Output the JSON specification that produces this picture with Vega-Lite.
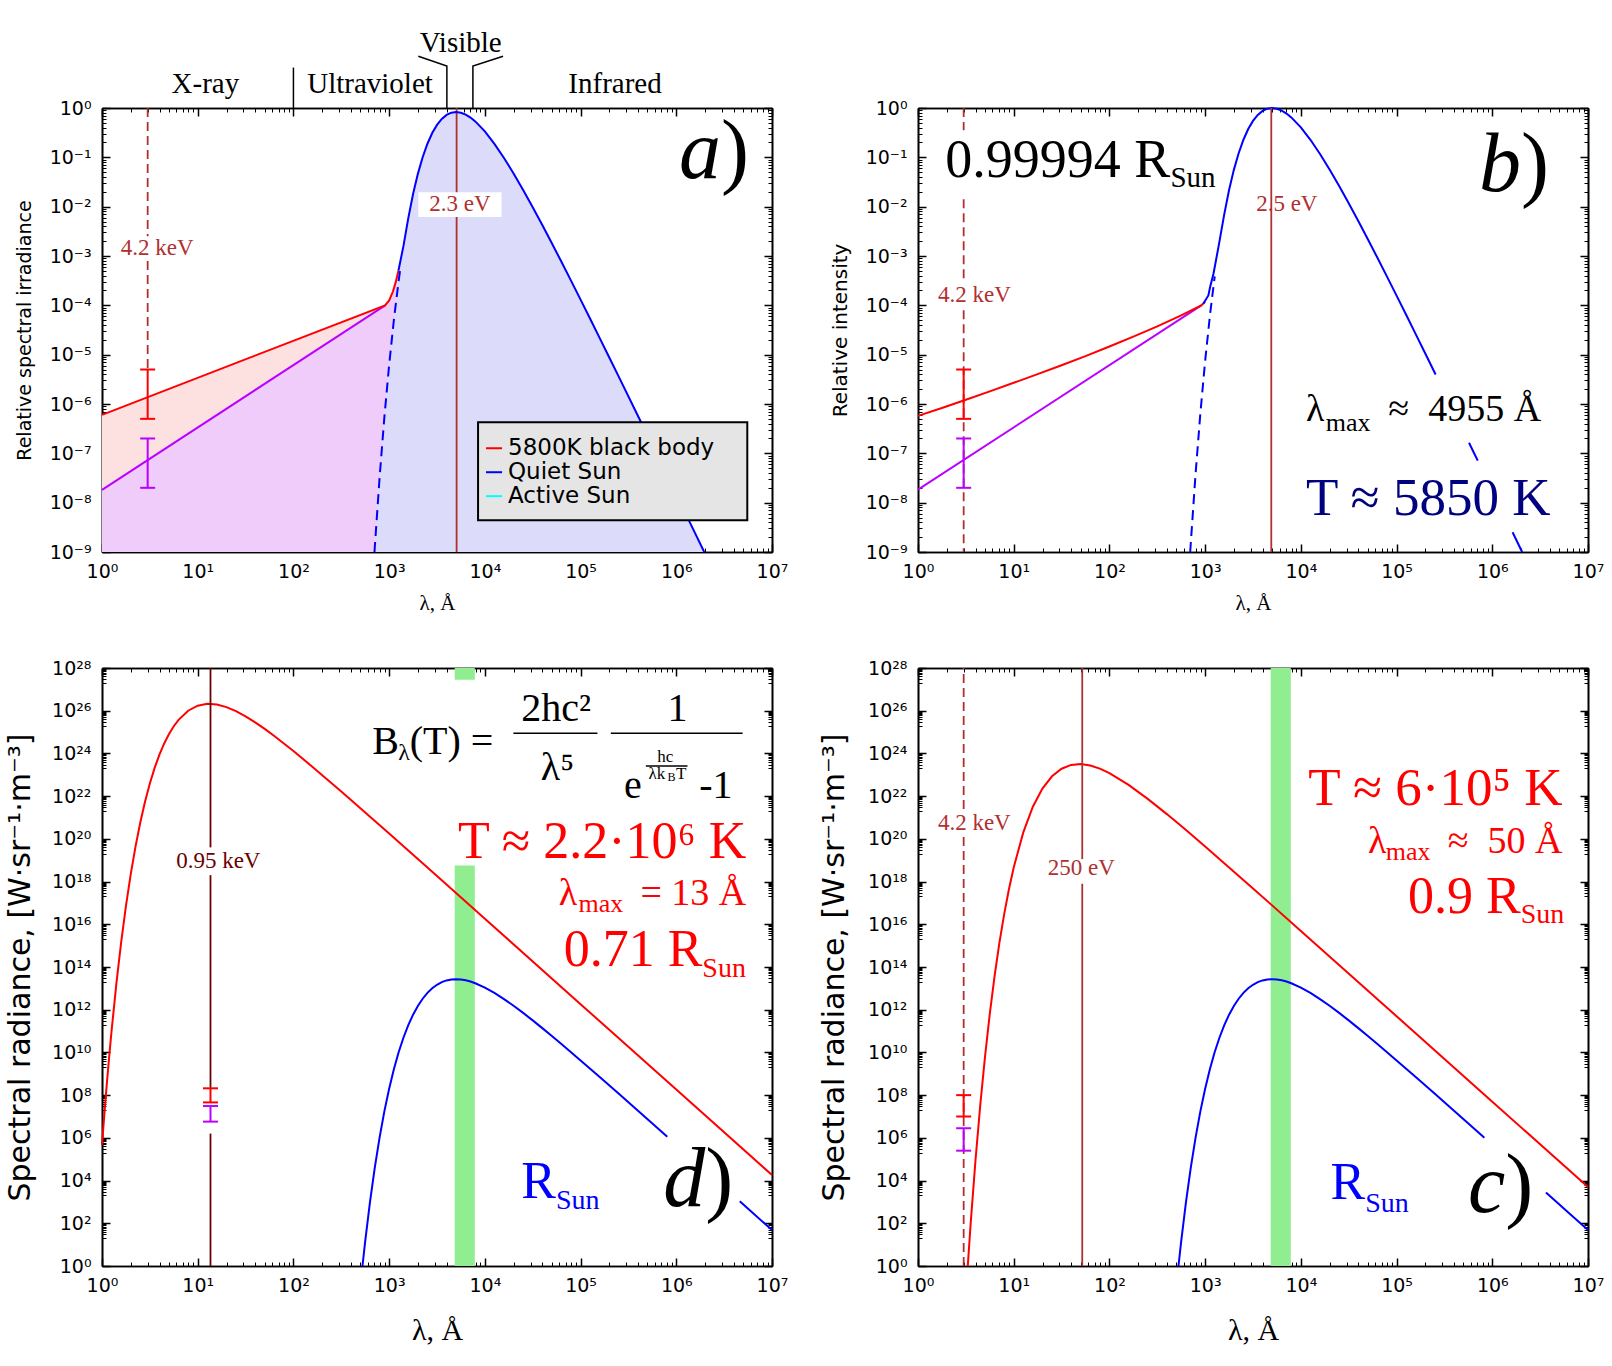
{
"$schema":"https://vega.github.io/schema/vega-lite/v6.json",
"background":"white",
"padding":{"left":5,"top":28,"right":5,"bottom":5},
"config":{"view":{"stroke":null},"axis":{"labelFont":"DejaVu Sans","labelFontSize":19,"labelColor":"black","tickColor":"black","domain":true,"domainColor":"black","domainWidth":1.6,"grid":false,"labelFlush":false,"labelOverlap":false,"zindex":1,"titleFont":"DejaVu Sans","titleColor":"black","titleFontWeight":"normal"}},
"datasets":{
"blueA":[{"x":703.1,"y":1e-9},{"x":707.9,"y":1.247e-9},{"x":794.3,"y":3.177e-8},{"x":891.3,"y":5.346e-7},{"x":1000,"y":6.194e-6},{"x":1122,"y":5.164e-5},{"x":1250,"y":5.012e-4},{"x":1413,"y":1.622e-3},{"x":1585,"y":5.848e-3},{"x":1778,"y":0.01807},{"x":1995,"y":0.04624},{"x":2239,"y":0.1007},{"x":2512,"y":0.1888},{"x":2818,"y":0.3105},{"x":3162,"y":0.455},{"x":3548,"y":0.6012},{"x":3981,"y":0.7244},{"x":4467,"y":0.8035},{"x":5012,"y":0.8279},{"x":5623,"y":0.8017},{"x":6310,"y":0.7345},{"x":7079,"y":0.6397},{"x":7943,"y":0.5346},{"x":10000,"y":0.3357},{"x":12589,"y":0.1879},{"x":15849,"y":0.09705},{"x":19953,"y":0.0471},{"x":25119,"y":0.02178},{"x":31623,"y":0.00975},{"x":39811,"y":0.004246},{"x":50119,"y":0.001811},{"x":63096,"y":7.621e-4},{"x":79433,"y":3.17e-4},{"x":100000,"y":1.303e-4},{"x":125893,"y":5.333e-5},{"x":158489,"y":2.168e-5},{"x":199526,"y":8.77e-6},{"x":251189,"y":3.54e-6},{"x":398107,"y":5.715e-7},{"x":630957,"y":9.162e-8},{"x":1000000,"y":1.462e-8},{"x":1584893,"y":2.328e-9},{"x":1958845,"y":1e-9}],
"blueB":[{"x":955,"y":1.072e-4,"g":1},{"x":1081,"y":1.585e-4,"g":1},{"x":1127,"y":2.344e-4,"g":1},{"x":1222,"y":4.365e-4,"g":1},{"x":1377,"y":1.514e-3,"g":1},{"x":1585,"y":7.047e-3,"g":1},{"x":1778,"y":0.02178,"g":1},{"x":1995,"y":0.05572,"g":1},{"x":2239,"y":0.1213,"g":1},{"x":2512,"y":0.2275,"g":1},{"x":2818,"y":0.3746,"g":1},{"x":3162,"y":0.5483,"g":1},{"x":3548,"y":0.7244,"g":1},{"x":3981,"y":0.8726,"g":1},{"x":4467,"y":0.9678,"g":1},{"x":5012,"y":0.9988,"g":1},{"x":5623,"y":0.9672,"g":1},{"x":6310,"y":0.8855,"g":1},{"x":7079,"y":0.7718,"g":1},{"x":7943,"y":0.6444,"g":1},{"x":10000,"y":0.4043,"g":1},{"x":12589,"y":0.2266,"g":1},{"x":15849,"y":0.1169,"g":1},{"x":19953,"y":0.05673,"g":1},{"x":25119,"y":0.02627,"g":1},{"x":31623,"y":0.01175,"g":1},{"x":39811,"y":0.005117,"g":1},{"x":50119,"y":0.002185,"g":1},{"x":63096,"y":9.187e-4,"g":1},{"x":79433,"y":3.818e-4,"g":1},{"x":100000,"y":1.572e-4,"g":1},{"x":125893,"y":6.425e-5,"g":1},{"x":158489,"y":2.612e-5,"g":1},{"x":199526,"y":1.057e-5,"g":1},{"x":251189,"y":4.263e-6,"g":1},{"x":255859,"y":3.963e-6,"g":1},{"x":571479,"y":1.636e-7,"g":2},{"x":630957,"y":1.104e-7,"g":2},{"x":704693,"y":7.104e-8,"g":2},{"x":1629296,"y":2.512e-9,"g":3},{"x":2051162,"y":1e-9,"g":3}],
"blueSI":[{"x":526.4,"y":1,"g":1},{"x":562.3,"y":14.69,"g":1},{"x":631,"y":1007,"g":1},{"x":707.9,"y":40460,"g":1},{"x":794.3,"y":1.03e6,"g":1},{"x":891.3,"y":1.734e7,"g":1},{"x":1000,"y":2.009e8,"g":1},{"x":1122,"y":1.675e9,"g":1},{"x":1259,"y":1.042e10,"g":1},{"x":1413,"y":5.0e10,"g":1},{"x":1585,"y":1.897e11,"g":1},{"x":1778,"y":5.861e11,"g":1},{"x":1995,"y":1.5e12,"g":1},{"x":2239,"y":3.266e12,"g":1},{"x":2512,"y":6.124e12,"g":1},{"x":2818,"y":1.008e13,"g":1},{"x":3162,"y":1.476e13,"g":1},{"x":3548,"y":1.95e13,"g":1},{"x":3981,"y":2.35e13,"g":1},{"x":4467,"y":2.606e13,"g":1},{"x":5012,"y":2.688e13,"g":1},{"x":5623,"y":2.603e13,"g":1},{"x":6310,"y":2.382e13,"g":1},{"x":7079,"y":2.077e13,"g":1},{"x":7943,"y":1.734e13,"g":1},{"x":10000,"y":1.089e13,"g":1},{"x":12589,"y":6.095e12,"g":1},{"x":15849,"y":3.148e12,"g":1},{"x":19953,"y":1.528e12,"g":1},{"x":25119,"y":7.079e11,"g":1},{"x":31623,"y":3.162e11,"g":1},{"x":39811,"y":1.377e11,"g":1},{"x":50119,"y":5.888e10,"g":1},{"x":63096,"y":2.472e10,"g":1},{"x":100000,"y":4.227e9,"g":1},{"x":158489,"y":7.031e8,"g":1},{"x":251189,"y":1.148e8,"g":1},{"x":398107,"y":1.854e7,"g":1},{"x":630957,"y":2.972e6,"g":1},{"x":805378,"y":1.125e6,"g":1},{"x":826038,"y":1.016e6,"g":1},{"x":3639150,"y":2729,"g":2},{"x":4602900,"y":1069,"g":2},{"x":6309573,"y":302,"g":2},{"x":10000000,"y":47.97,"g":2}]
},
"columns":2,
"spacing":{"row":116,"column":146},
"bounds":"flush",
"concat":[
{"width":670,"height":444,
"resolve":{"axis":{"x":"independent","y":"independent"}},
"encoding":{"x":{"field":"x","type":"quantitative","scale":{"type":"log","domain":[1,10000000],"nice":false},"axis":null},"y":{"field":"y","type":"quantitative","scale":{"type":"log","domain":[1e-9,1],"nice":false},"axis":null}},
"layer":[
{"data":{"values":[{"x":1,"y":1.82e-8,"y2":1e-9},{"x":907.8,"y":1e-4,"y2":1e-9},{"x":1000,"y":1.259e-4,"y2":1e-9},{"x":1096,"y":1.905e-4,"y2":1e-9},{"x":1175,"y":3.02e-4,"y2":1e-9},{"x":1250,"y":5.012e-4,"y2":1e-9}]},
 "mark":{"type":"area","color":"#efccfa","opacity":1},
 "encoding":{"x":{"field":"x","type":"quantitative","scale":{"type":"log","domain":[1,10000000],"nice":false},"axis":{"orient":"bottom","values":[1,10,100,1000,10000,100000,1000000,10000000],"tickSize":-8,"tickWidth":1.5,"labelPadding":18,"labelExpr":"'10' + ['⁰','¹','²','³','⁴','⁵','⁶','⁷','⁸','⁹'][round(log(datum.value)/LN10)]","title":"λ, Å","titleFont":"Liberation Serif","titleFontSize":21,"titlePadding":11}},
  "y":{"field":"y","type":"quantitative","scale":{"type":"log","domain":[1e-9,1],"nice":false},"axis":{"orient":"left","values":[1e-9,1e-8,1e-7,1e-6,1e-5,1e-4,1e-3,0.01,0.1,1],"tickSize":-8,"tickWidth":1.5,"labelPadding":19,"labelExpr":"'10' + (datum.value < 0.5 ? '⁻' : '') + ['⁰','¹','²','³','⁴','⁵','⁶','⁷','⁸','⁹'][abs(round(log(datum.value)/LN10))]","title":"Relative spectral irradiance","titleFontSize":19,"titlePadding":15}},
  "y2":{"field":"y2"}}},
{"data":{"values":[{"x":1,"y":6.03e-7,"y2":1.82e-8},{"x":907.8,"y":1e-4,"y2":1e-4}]},
 "mark":{"type":"area","color":"#fde1e1","opacity":1},
 "encoding":{"x":{"field":"x","type":"quantitative","scale":{"type":"log","domain":[1,10000000],"nice":false},"axis":{"orient":"top","values":[1,10,100,1000,10000,100000,1000000,10000000],"tickSize":-8,"tickWidth":1.5,"labels":false,"title":null}},
  "y":{"field":"y","type":"quantitative","scale":{"type":"log","domain":[1e-9,1],"nice":false},"axis":{"orient":"right","values":[1e-9,1e-8,1e-7,1e-6,1e-5,1e-4,1e-3,0.01,0.1,1],"tickSize":-8,"tickWidth":1.5,"labels":false,"title":null}},
  "y2":{"field":"y2"}}},
{"data":{"name":"blueA"},
 "mark":{"type":"area","color":"#dcdcfa","opacity":1},
 "encoding":{"x":{"field":"x","type":"quantitative","scale":{"type":"log","domain":[1,10000000],"nice":false},"axis":{"orient":"bottom","values":[2,3,4,5,6,7,8,9,20,30,40,50,60,70,80,90,200,300,400,500,600,700,800,900,2000,3000,4000,5000,6000,7000,8000,9000,20000,30000,40000,50000,60000,70000,80000,90000,200000,300000,400000,500000,600000,700000,800000,900000,2000000,3000000,4000000,5000000,6000000,7000000,8000000,9000000],"tickSize":-4,"tickWidth":1,"labels":false,"title":null}},
  "y":{"field":"y","type":"quantitative","scale":{"type":"log","domain":[1e-9,1],"nice":false},"axis":{"orient":"left","values":[2e-9,3e-9,4e-9,5e-9,6e-9,7e-9,8e-9,9e-9,2e-8,3e-8,4e-8,5e-8,6e-8,7e-8,8e-8,9e-8,2e-7,3e-7,4e-7,5e-7,6e-7,7e-7,8e-7,9e-7,2e-6,3e-6,4e-6,5e-6,6e-6,7e-6,8e-6,9e-6,2e-5,3e-5,4e-5,5e-5,6e-5,7e-5,8e-5,9e-5,2e-4,3e-4,4e-4,5e-4,6e-4,7e-4,8e-4,9e-4,2e-3,3e-3,4e-3,5e-3,6e-3,7e-3,8e-3,9e-3,0.02,0.03,0.04,0.05,0.06,0.07,0.08,0.09,0.2,0.3,0.4,0.5,0.6,0.7,0.8,0.9],"tickSize":-4,"tickWidth":1,"labels":false,"title":null}},
  "y2":{"datum":1e-9}}},
{"data":{"values":[{"x":100,"y":1,"g":1,"o":1},{"x":100,"y":6.6,"g":1,"o":2},{"x":2018,"y":11.22,"g":2,"o":1},{"x":4010,"y":7.08,"g":2,"o":2},{"x":4010,"y":1,"g":2,"o":3},{"x":15500,"y":11.22,"g":3,"o":1},{"x":7500,"y":7.08,"g":3,"o":2},{"x":7500,"y":1,"g":3,"o":3}]},
 "mark":{"type":"line","color":"black","strokeWidth":1.5},
 "encoding":{"x":{"field":"x","type":"quantitative","scale":{"type":"log","domain":[1,10000000],"nice":false},"axis":{"orient":"top","values":[2,3,4,5,6,7,8,9,20,30,40,50,60,70,80,90,200,300,400,500,600,700,800,900,2000,3000,4000,5000,6000,7000,8000,9000,20000,30000,40000,50000,60000,70000,80000,90000,200000,300000,400000,500000,600000,700000,800000,900000,2000000,3000000,4000000,5000000,6000000,7000000,8000000,9000000],"tickSize":-4,"tickWidth":1,"labels":false,"title":null}},
  "y":{"field":"y","type":"quantitative","scale":{"type":"log","domain":[1e-9,1],"nice":false},"axis":{"orient":"right","values":[2e-9,3e-9,4e-9,5e-9,6e-9,7e-9,8e-9,9e-9,2e-8,3e-8,4e-8,5e-8,6e-8,7e-8,8e-8,9e-8,2e-7,3e-7,4e-7,5e-7,6e-7,7e-7,8e-7,9e-7,2e-6,3e-6,4e-6,5e-6,6e-6,7e-6,8e-6,9e-6,2e-5,3e-5,4e-5,5e-5,6e-5,7e-5,8e-5,9e-5,2e-4,3e-4,4e-4,5e-4,6e-4,7e-4,8e-4,9e-4,2e-3,3e-3,4e-3,5e-3,6e-3,7e-3,8e-3,9e-3,0.02,0.03,0.04,0.05,0.06,0.07,0.08,0.09,0.2,0.3,0.4,0.5,0.6,0.7,0.8,0.9],"tickSize":-4,"tickWidth":1,"labels":false,"title":null}},
  "detail":{"field":"g"},"order":{"field":"o"}}},
{"data":{"values":[{"x":5070,"y":1e-9,"y2":1}]},"mark":{"type":"rule","color":"#b03030","strokeWidth":1.8},"encoding":{"y2":{"field":"y2"}}},
{"data":{"values":[{"x":3,"y":1,"y2":0.002512},{"x":3,"y":0.0007943,"y2":5e-6}]},"mark":{"type":"rule","color":"#b03030","strokeWidth":1.8,"strokeDash":[9,5]},"encoding":{"y2":{"field":"y2"}}},
{"data":{"values":[{"x":2018,"x2":14920,"y":0.0195,"y2":0.006166}]},"mark":{"type":"rect","color":"white","opacity":1},"encoding":{"x2":{"field":"x2"},"y2":{"field":"y2"}}},
{"data":{"values":[{"x":5495,"y":0.008318,"t":"2.3 eV"},{"x":3.767,"y":0.001072,"t":"4.2 keV"}]},"mark":{"type":"text","font":"Liberation Serif","fontSize":23,"align":"center","baseline":"alphabetic","color":"#b03030"},"encoding":{"text":{"field":"t"}}},
{"data":{"values":[{"x":1,"y":1.82e-8,"s":"pu"},{"x":907.8,"y":1e-4,"s":"pu"},{"x":1,"y":6.03e-7,"s":"bb"},{"x":907.8,"y":1e-4,"s":"bb"},{"x":1000,"y":1.259e-4,"s":"bb"},{"x":1096,"y":1.905e-4,"s":"bb"},{"x":1175,"y":3.02e-4,"s":"bb"},{"x":1250,"y":5.012e-4,"s":"bb"}]},"mark":{"type":"line","strokeWidth":2},"encoding":{"color":{"field":"s","type":"nominal","scale":{"domain":["bb","qs","as","pu"],"range":["#ff0000","#0000ff","#00ffff","#bb00ff"]},"legend":null}}},
{"data":{"name":"blueA"},"transform":[{"filter":"datum.x >= 1250"}],"mark":{"type":"line","color":"#0000ff","strokeWidth":2}},
{"data":{"values":[{"x":703.1,"y":1e-9},{"x":707.9,"y":1.247e-9},{"x":794.3,"y":3.177e-8},{"x":891.3,"y":5.346e-7},{"x":1000,"y":6.194e-6},{"x":1122,"y":5.164e-5},{"x":1259,"y":3.214e-4},{"x":1318,"y":6.026e-4}]},"mark":{"type":"line","color":"#0000ff","strokeWidth":2,"strokeDash":[10,6]}},
{"data":{"values":[{"x":3,"y":5e-6,"y2":5e-7,"s":"bb"},{"x":3,"y":2e-7,"y2":2e-8,"s":"pu"}]},"mark":{"type":"rule","strokeWidth":2},"encoding":{"y2":{"field":"y2"},"color":{"field":"s","type":"nominal","scale":{"domain":["bb","qs","as","pu"],"range":["#ff0000","#0000ff","#00ffff","#bb00ff"]},"legend":null}}},
{"data":{"values":[{"x":3,"y":5e-6,"s":"bb"},{"x":3,"y":5e-7,"s":"bb"},{"x":3,"y":2e-7,"s":"pu"},{"x":3,"y":2e-8,"s":"pu"}]},"mark":{"type":"tick","orient":"horizontal","size":15,"thickness":2,"opacity":1},"encoding":{"color":{"field":"s","type":"nominal","scale":{"domain":["bb","qs","as","pu"],"range":["#ff0000","#0000ff","#00ffff","#bb00ff"]},"legend":null}}},
{"data":{"values":[{"x":8492,"x2":5520000,"y":4.256e-7,"y2":4.426e-9}]},"mark":{"type":"rect","fill":"#e5e5e5","stroke":"black","strokeWidth":2,"opacity":1},"encoding":{"x2":{"field":"x2"},"y2":{"field":"y2"}}},
{"data":{"values":[{"x":10280,"x2":15136,"y":1.268e-7,"s":"bb"},{"x":10280,"x2":15136,"y":4.14e-8,"s":"qs"},{"x":10280,"x2":15136,"y":1.355e-8,"s":"as"}]},"mark":{"type":"rule","strokeWidth":2},"encoding":{"x2":{"field":"x2"},"color":{"field":"s","type":"nominal","scale":{"domain":["bb","qs","as","pu"],"range":["#ff0000","#0000ff","#00ffff","#bb00ff"]},"legend":null}}},
{"data":{"values":[{"x":17458,"y":1.268e-7,"t":"5800K black body"},{"x":17458,"y":4.14e-8,"t":"Quiet Sun"},{"x":17458,"y":1.355e-8,"t":"Active Sun"}]},"mark":{"type":"text","font":"DejaVu Sans","fontSize":23,"align":"left","baseline":"middle","color":"black"},"encoding":{"text":{"field":"t"}}},
{"data":{"values":[{"x":12.02,"y":2.014,"t":"X-ray"},{"x":631,"y":2.014,"t":"Ultraviolet"},{"x":229087,"y":2.014,"t":"Infrared"},{"x":5585,"y":13.96,"t":"Visible"}]},"mark":{"type":"text","font":"Liberation Serif","fontSize":29,"align":"center","baseline":"alphabetic","color":"black"},"encoding":{"text":{"field":"t"}}},
{"data":{"values":[{"x":2938000,"y":0.03802,"t":"a"}]},"mark":{"type":"text","font":"Liberation Serif","fontSize":84,"fontStyle":"italic","align":"right","baseline":"alphabetic","color":"black"},"encoding":{"text":{"field":"t"}}},
{"data":{"values":[{"x":2938000,"y":0.03802,"t":")"}]},"mark":{"type":"text","font":"Liberation Serif","fontSize":84,"align":"left","baseline":"alphabetic","color":"black"},"encoding":{"text":{"field":"t"}}}
]},
{"width":670,"height":444,
"resolve":{"axis":{"x":"independent","y":"independent"}},
"encoding":{"x":{"field":"x","type":"quantitative","scale":{"type":"log","domain":[1,10000000],"nice":false},"axis":null},"y":{"field":"y","type":"quantitative","scale":{"type":"log","domain":[1e-9,1],"nice":false},"axis":null}},
"layer":[
{"data":{"values":[{"x":1,"y":1.837e-8,"s":"pu"},{"x":912,"y":1e-4,"s":"pu"},{"x":1,"y":5.754e-7,"s":"bb"},{"x":1.778,"y":8.318e-7,"s":"bb"},{"x":3.162,"y":1.216e-6,"s":"bb"},{"x":5.623,"y":1.799e-6,"s":"bb"},{"x":10,"y":2.692e-6,"s":"bb"},{"x":17.78,"y":4.027e-6,"s":"bb"},{"x":31.62,"y":6.095e-6,"s":"bb"},{"x":56.23,"y":9.333e-6,"s":"bb"},{"x":100,"y":1.462e-5,"s":"bb"},{"x":177.8,"y":2.317e-5,"s":"bb"},{"x":316.2,"y":3.758e-5,"s":"bb"},{"x":562.3,"y":6.237e-5,"s":"bb"},{"x":912,"y":1e-4,"s":"bb"},{"x":1000,"y":1.175e-4,"s":"bb"}]},
 "mark":{"type":"line","strokeWidth":2},
 "encoding":{"x":{"field":"x","type":"quantitative","scale":{"type":"log","domain":[1,10000000],"nice":false},"axis":{"orient":"bottom","values":[1,10,100,1000,10000,100000,1000000,10000000],"tickSize":-8,"tickWidth":1.5,"labelPadding":18,"labelExpr":"'10' + ['⁰','¹','²','³','⁴','⁵','⁶','⁷','⁸','⁹'][round(log(datum.value)/LN10)]","title":"λ, Å","titleFont":"Liberation Serif","titleFontSize":21,"titlePadding":11}},
  "y":{"field":"y","type":"quantitative","scale":{"type":"log","domain":[1e-9,1],"nice":false},"axis":{"orient":"left","values":[1e-9,1e-8,1e-7,1e-6,1e-5,1e-4,1e-3,0.01,0.1,1],"tickSize":-8,"tickWidth":1.5,"labelPadding":19,"labelExpr":"'10' + (datum.value < 0.5 ? '⁻' : '') + ['⁰','¹','²','³','⁴','⁵','⁶','⁷','⁸','⁹'][abs(round(log(datum.value)/LN10))]","title":"Relative intensity","titleFontSize":20,"titlePadding":15}},
  "color":{"field":"s","type":"nominal","scale":{"domain":["bb","qs","as","pu"],"range":["#ff0000","#0000ff","#00ffff","#bb00ff"]},"legend":null}}},
{"data":{"name":"blueB"},
 "mark":{"type":"line","color":"#0000ff","strokeWidth":2},
 "encoding":{"x":{"field":"x","type":"quantitative","scale":{"type":"log","domain":[1,10000000],"nice":false},"axis":{"orient":"top","values":[1,10,100,1000,10000,100000,1000000,10000000],"tickSize":-8,"tickWidth":1.5,"labels":false,"title":null}},
  "y":{"field":"y","type":"quantitative","scale":{"type":"log","domain":[1e-9,1],"nice":false},"axis":{"orient":"right","values":[1e-9,1e-8,1e-7,1e-6,1e-5,1e-4,1e-3,0.01,0.1,1],"tickSize":-8,"tickWidth":1.5,"labels":false,"title":null}},
  "detail":{"field":"g"}}},
{"data":{"values":[{"x":698.2,"y":1e-9},{"x":707.9,"y":1.503e-9},{"x":794.3,"y":3.828e-8},{"x":891.3,"y":6.442e-7},{"x":1000,"y":7.464e-6},{"x":1122,"y":6.223e-5},{"x":1259,"y":3.873e-4}]},
 "mark":{"type":"line","color":"#0000ff","strokeWidth":2,"strokeDash":[10,6]},
 "encoding":{"x":{"field":"x","type":"quantitative","scale":{"type":"log","domain":[1,10000000],"nice":false},"axis":{"orient":"bottom","values":[2,3,4,5,6,7,8,9,20,30,40,50,60,70,80,90,200,300,400,500,600,700,800,900,2000,3000,4000,5000,6000,7000,8000,9000,20000,30000,40000,50000,60000,70000,80000,90000,200000,300000,400000,500000,600000,700000,800000,900000,2000000,3000000,4000000,5000000,6000000,7000000,8000000,9000000],"tickSize":-4,"tickWidth":1,"labels":false,"title":null}},
  "y":{"field":"y","type":"quantitative","scale":{"type":"log","domain":[1e-9,1],"nice":false},"axis":{"orient":"left","values":[2e-9,3e-9,4e-9,5e-9,6e-9,7e-9,8e-9,9e-9,2e-8,3e-8,4e-8,5e-8,6e-8,7e-8,8e-8,9e-8,2e-7,3e-7,4e-7,5e-7,6e-7,7e-7,8e-7,9e-7,2e-6,3e-6,4e-6,5e-6,6e-6,7e-6,8e-6,9e-6,2e-5,3e-5,4e-5,5e-5,6e-5,7e-5,8e-5,9e-5,2e-4,3e-4,4e-4,5e-4,6e-4,7e-4,8e-4,9e-4,2e-3,3e-3,4e-3,5e-3,6e-3,7e-3,8e-3,9e-3,0.02,0.03,0.04,0.05,0.06,0.07,0.08,0.09,0.2,0.3,0.4,0.5,0.6,0.7,0.8,0.9],"tickSize":-4,"tickWidth":1,"labels":false,"title":null}}}},
{"data":{"values":[{"x":4910,"y":1e-9,"y2":1}]},
 "mark":{"type":"rule","color":"#b03030","strokeWidth":1.8},
 "encoding":{"x":{"field":"x","type":"quantitative","scale":{"type":"log","domain":[1,10000000],"nice":false},"axis":{"orient":"top","values":[2,3,4,5,6,7,8,9,20,30,40,50,60,70,80,90,200,300,400,500,600,700,800,900,2000,3000,4000,5000,6000,7000,8000,9000,20000,30000,40000,50000,60000,70000,80000,90000,200000,300000,400000,500000,600000,700000,800000,900000,2000000,3000000,4000000,5000000,6000000,7000000,8000000,9000000],"tickSize":-4,"tickWidth":1,"labels":false,"title":null}},
  "y":{"field":"y","type":"quantitative","scale":{"type":"log","domain":[1e-9,1],"nice":false},"axis":{"orient":"right","values":[2e-9,3e-9,4e-9,5e-9,6e-9,7e-9,8e-9,9e-9,2e-8,3e-8,4e-8,5e-8,6e-8,7e-8,8e-8,9e-8,2e-7,3e-7,4e-7,5e-7,6e-7,7e-7,8e-7,9e-7,2e-6,3e-6,4e-6,5e-6,6e-6,7e-6,8e-6,9e-6,2e-5,3e-5,4e-5,5e-5,6e-5,7e-5,8e-5,9e-5,2e-4,3e-4,4e-4,5e-4,6e-4,7e-4,8e-4,9e-4,2e-3,3e-3,4e-3,5e-3,6e-3,7e-3,8e-3,9e-3,0.02,0.03,0.04,0.05,0.06,0.07,0.08,0.09,0.2,0.3,0.4,0.5,0.6,0.7,0.8,0.9],"tickSize":-4,"tickWidth":1,"labels":false,"title":null}},
  "y2":{"field":"y2"}}},
{"data":{"values":[{"x":3,"y":1,"y2":0.3548},{"x":3,"y":0.01413,"y2":2.818e-4},{"x":3,"y":7.943e-5,"y2":1e-9}]},"mark":{"type":"rule","color":"#b03030","strokeWidth":1.8,"strokeDash":[9,5]},"encoding":{"y2":{"field":"y2"}}},
{"data":{"values":[{"x":3,"y":5e-6,"y2":5e-7,"s":"bb"},{"x":3,"y":2e-7,"y2":2e-8,"s":"pu"}]},"mark":{"type":"rule","strokeWidth":2},"encoding":{"y2":{"field":"y2"},"color":{"field":"s","type":"nominal","scale":{"domain":["bb","qs","as","pu"],"range":["#ff0000","#0000ff","#00ffff","#bb00ff"]},"legend":null}}},
{"data":{"values":[{"x":3,"y":5e-6,"s":"bb"},{"x":3,"y":5e-7,"s":"bb"},{"x":3,"y":2e-7,"s":"pu"},{"x":3,"y":2e-8,"s":"pu"}]},"mark":{"type":"tick","orient":"horizontal","size":15,"thickness":2,"opacity":1},"encoding":{"color":{"field":"s","type":"nominal","scale":{"domain":["bb","qs","as","pu"],"range":["#ff0000","#0000ff","#00ffff","#bb00ff"]},"legend":null}}},
{"data":{"values":[{"x":7129,"y":0.008318,"t":"2.5 eV"},{"x":3.882,"y":1.175e-4,"t":"4.2 keV"}]},"mark":{"type":"text","font":"Liberation Serif","fontSize":23,"align":"center","baseline":"alphabetic","color":"#b03030"},"encoding":{"text":{"field":"t"}}},
{"data":{"values":[{"x":433.5,"y":0.03981,"t":"0.99994 R"}]},"mark":{"type":"text","font":"Liberation Serif","fontSize":54,"align":"right","baseline":"alphabetic","color":"black"},"encoding":{"text":{"field":"t"}}},
{"data":{"values":[{"x":433.5,"y":0.02512,"t":"Sun"}]},"mark":{"type":"text","font":"Liberation Serif","fontSize":29,"align":"left","baseline":"alphabetic","color":"black"},"encoding":{"text":{"field":"t"}}},
{"data":{"values":[{"x":11298,"y":4.519e-7,"t":"λ"}]},"mark":{"type":"text","font":"Liberation Serif","fontSize":38,"align":"left","baseline":"alphabetic","color":"black"},"encoding":{"text":{"field":"t"}}},
{"data":{"values":[{"x":18197,"y":2.818e-7,"t":"max"}]},"mark":{"type":"text","font":"Liberation Serif","fontSize":26,"align":"left","baseline":"alphabetic","color":"black"},"encoding":{"text":{"field":"t"}}},
{"data":{"values":[{"x":3236000,"y":4.519e-7,"t":"≈\u00a0\u00a04955 Å"}]},"mark":{"type":"text","font":"Liberation Serif","fontSize":38,"align":"right","baseline":"alphabetic","color":"black"},"encoding":{"text":{"field":"t"}}},
{"data":{"values":[{"x":11298,"y":5.495e-9,"t":"T ≈ 5850 K"}]},"mark":{"type":"text","font":"Liberation Serif","fontSize":53,"align":"left","baseline":"alphabetic","color":"#000080"},"encoding":{"text":{"field":"t"}}},
{"data":{"values":[{"x":1995000,"y":0.02089,"t":"b"}]},"mark":{"type":"text","font":"Liberation Serif","fontSize":84,"fontStyle":"italic","align":"right","baseline":"alphabetic","color":"black"},"encoding":{"text":{"field":"t"}}},
{"data":{"values":[{"x":1995000,"y":0.02089,"t":")"}]},"mark":{"type":"text","font":"Liberation Serif","fontSize":84,"align":"left","baseline":"alphabetic","color":"black"},"encoding":{"text":{"field":"t"}}}
]},
{"width":670,"height":598,
"resolve":{"axis":{"x":"independent","y":"independent"}},
"encoding":{"x":{"field":"x","type":"quantitative","scale":{"type":"log","domain":[1,10000000],"nice":false},"axis":null},"y":{"field":"y","type":"quantitative","scale":{"type":"log","domain":[1,1e28],"nice":false},"axis":null}},
"layer":[
{"data":{"values":[{"x":4842,"x2":7852,"y":2.818e27,"y2":1e28},{"x":4842,"x2":7852,"y":1,"y2":5.623e18}]},
 "mark":{"type":"rect","color":"#90ee90","opacity":1},
 "encoding":{"x":{"field":"x","type":"quantitative","scale":{"type":"log","domain":[1,10000000],"nice":false},"axis":{"orient":"bottom","values":[1,10,100,1000,10000,100000,1000000,10000000],"tickSize":-8,"tickWidth":1.5,"labelPadding":18,"labelExpr":"'10' + ['⁰','¹','²','³','⁴','⁵','⁶','⁷','⁸','⁹'][round(log(datum.value)/LN10)]","title":"λ, Å","titleFont":"Liberation Serif","titleFontSize":30,"titlePadding":20}},
  "y":{"field":"y","type":"quantitative","scale":{"type":"log","domain":[1,1e28],"nice":false},"axis":{"orient":"left","values":[1,100,10000,1000000,100000000,1e10,1e12,1e14,1e16,1e18,1e20,1e22,1e24,1e26,1e28],"tickSize":-8,"tickWidth":1.5,"labelPadding":19,"labelExpr":"'10' + (datum.value > 5e9 ? ['⁰','¹','²','³','⁴','⁵','⁶','⁷','⁸','⁹'][floor(round(log(datum.value)/LN10)/10)] : '') + ['⁰','¹','²','³','⁴','⁵','⁶','⁷','⁸','⁹'][round(log(datum.value)/LN10) % 10]","title":"Spectral radiance, [W·sr⁻¹·m⁻³]","titleFontSize":30,"titlePadding":16}},
  "x2":{"field":"x2"},"y2":{"field":"y2"}}},
{"data":{"values":[{"x":1,"y":4.71e5},{"x":1.0593,"y":1.374e7},{"x":1.122,"y":3.243e8},{"x":1.1885,"y":6.34e9},{"x":1.259,"y":1.035e11},{"x":1.413,"y":1.652e13},{"x":1.585,"y":1.429e15},{"x":1.778,"y":7.145e16},{"x":1.995,"y":2.193e18},{"x":2.239,"y":4.355e19},{"x":2.512,"y":5.875e20},{"x":2.818,"y":5.598e21},{"x":3.162,"y":3.926e22},{"x":3.548,"y":2.094e23},{"x":3.981,"y":8.73e23},{"x":4.467,"y":2.934e24},{"x":5.012,"y":8.11e24},{"x":5.623,"y":1.885e25},{"x":6.31,"y":3.754e25},{"x":7.943,"y":1.0007e26},{"x":10,"y":1.723e26},{"x":12.59,"y":2.1e26},{"x":15.85,"y":1.954e26},{"x":19.95,"y":1.477e26},{"x":25.12,"y":9.522e25},{"x":31.62,"y":5.452e25},{"x":39.81,"y":2.857e25},{"x":50.12,"y":1.402e25},{"x":63.1,"y":6.549e24},{"x":100,"y":1.29e24},{"x":158.5,"y":2.332e23},{"x":316.2,"y":1.64e22},{"x":1000,"y":1.762e20},{"x":3162,"y":1.803e18},{"x":10000,"y":1.816e16},{"x":100000,"y":1.821e12},{"x":1000000,"y":1.822e8},{"x":10000000,"y":18220}]},
 "mark":{"type":"line","color":"#ff0000","strokeWidth":2},
 "encoding":{"x":{"field":"x","type":"quantitative","scale":{"type":"log","domain":[1,10000000],"nice":false},"axis":{"orient":"top","values":[1,10,100,1000,10000,100000,1000000,10000000],"tickSize":-8,"tickWidth":1.5,"labels":false,"title":null}},
  "y":{"field":"y","type":"quantitative","scale":{"type":"log","domain":[1,1e28],"nice":false},"axis":{"orient":"right","values":[1,100,10000,1000000,100000000,1e10,1e12,1e14,1e16,1e18,1e20,1e22,1e24,1e26,1e28],"tickSize":-8,"tickWidth":1.5,"labels":false,"title":null}}}},
{"data":{"name":"blueSI"},"transform":[{"filter":"datum.x <= 805400 || datum.x >= 4602000"}],
 "mark":{"type":"line","color":"#0000ff","strokeWidth":2},
 "encoding":{"x":{"field":"x","type":"quantitative","scale":{"type":"log","domain":[1,10000000],"nice":false},"axis":{"orient":"bottom","values":[2,3,4,5,6,7,8,9,20,30,40,50,60,70,80,90,200,300,400,500,600,700,800,900,2000,3000,4000,5000,6000,7000,8000,9000,20000,30000,40000,50000,60000,70000,80000,90000,200000,300000,400000,500000,600000,700000,800000,900000,2000000,3000000,4000000,5000000,6000000,7000000,8000000,9000000],"tickSize":-4,"tickWidth":1,"labels":false,"title":null}},
  "y":{"field":"y","type":"quantitative","scale":{"type":"log","domain":[1,1e28],"nice":false},"axis":{"orient":"left","values":[20,30,40,50,60,70,80,90,2000,3000,4000,5000,6000,7000,8000,9000,2e5,3e5,4e5,5e5,6e5,7e5,8e5,9e5,2e7,3e7,4e7,5e7,6e7,7e7,8e7,9e7,2e9,3e9,4e9,5e9,6e9,7e9,8e9,9e9,2e11,3e11,4e11,5e11,6e11,7e11,8e11,9e11,2e13,3e13,4e13,5e13,6e13,7e13,8e13,9e13,2e15,3e15,4e15,5e15,6e15,7e15,8e15,9e15,2e17,3e17,4e17,5e17,6e17,7e17,8e17,9e17,2e19,3e19,4e19,5e19,6e19,7e19,8e19,9e19,2e21,3e21,4e21,5e21,6e21,7e21,8e21,9e21,2e23,3e23,4e23,5e23,6e23,7e23,8e23,9e23,2e25,3e25,4e25,5e25,6e25,7e25,8e25,9e25,2e27,3e27,4e27,5e27,6e27,7e27,8e27,9e27],"tickSize":-4,"tickWidth":1,"labels":false,"title":null}},
  "detail":{"field":"g"}}},
{"data":{"values":[{"x":13.6,"y":3.981e19,"y2":1e28},{"x":13.6,"y":2.188e8,"y2":1.995e18},{"x":13.6,"y":1,"y2":1.585e6}]},
 "mark":{"type":"rule","color":"#6b0000","strokeWidth":1.8},
 "encoding":{"x":{"field":"x","type":"quantitative","scale":{"type":"log","domain":[1,10000000],"nice":false},"axis":{"orient":"top","values":[2,3,4,5,6,7,8,9,20,30,40,50,60,70,80,90,200,300,400,500,600,700,800,900,2000,3000,4000,5000,6000,7000,8000,9000,20000,30000,40000,50000,60000,70000,80000,90000,200000,300000,400000,500000,600000,700000,800000,900000,2000000,3000000,4000000,5000000,6000000,7000000,8000000,9000000],"tickSize":-4,"tickWidth":1,"labels":false,"title":null}},
  "y":{"field":"y","type":"quantitative","scale":{"type":"log","domain":[1,1e28],"nice":false},"axis":{"orient":"right","values":[20,30,40,50,60,70,80,90,2000,3000,4000,5000,6000,7000,8000,9000,2e5,3e5,4e5,5e5,6e5,7e5,8e5,9e5,2e7,3e7,4e7,5e7,6e7,7e7,8e7,9e7,2e9,3e9,4e9,5e9,6e9,7e9,8e9,9e9,2e11,3e11,4e11,5e11,6e11,7e11,8e11,9e11,2e13,3e13,4e13,5e13,6e13,7e13,8e13,9e13,2e15,3e15,4e15,5e15,6e15,7e15,8e15,9e15,2e17,3e17,4e17,5e17,6e17,7e17,8e17,9e17,2e19,3e19,4e19,5e19,6e19,7e19,8e19,9e19,2e21,3e21,4e21,5e21,6e21,7e21,8e21,9e21,2e23,3e23,4e23,5e23,6e23,7e23,8e23,9e23,2e25,3e25,4e25,5e25,6e25,7e25,8e25,9e25,2e27,3e27,4e27,5e27,6e27,7e27,8e27,9e27],"tickSize":-4,"tickWidth":1,"labels":false,"title":null}},
  "y2":{"field":"y2"}}},
{"data":{"values":[{"x":13.6,"y":2.089e8,"y2":4.571e7,"s":"bb"},{"x":13.6,"y":3.09e7,"y2":5.754e6,"s":"pu"}]},"mark":{"type":"rule","strokeWidth":2},"encoding":{"y2":{"field":"y2"},"color":{"field":"s","type":"nominal","scale":{"domain":["bb","qs","as","pu"],"range":["#ff0000","#0000ff","#00ffff","#bb00ff"]},"legend":null}}},
{"data":{"values":[{"x":13.6,"y":2.089e8,"s":"bb"},{"x":13.6,"y":4.571e7,"s":"bb"},{"x":13.6,"y":3.09e7,"s":"pu"},{"x":13.6,"y":5.754e6,"s":"pu"}]},"mark":{"type":"tick","orient":"horizontal","size":15,"thickness":2,"opacity":1},"encoding":{"color":{"field":"s","type":"nominal","scale":{"domain":["bb","qs","as","pu"],"range":["#ff0000","#0000ff","#00ffff","#bb00ff"]},"legend":null}}},
{"data":{"values":[{"x":16.41,"y":4.266e18,"t":"0.95 keV"}]},"mark":{"type":"text","font":"Liberation Serif","fontSize":23,"align":"center","baseline":"alphabetic","color":"#6b0000"},"encoding":{"text":{"field":"t"}}},
{"data":{"values":[{"x":665.3,"y":9.333e23,"t":"B"},{"x":1637,"y":9.333e23,"t":"(T) ="},{"x":24044,"y":3.388e25,"t":"2hc²"},{"x":38371,"y":5.623e22,"t":"λ⁵"},{"x":285102,"y":7.943e21,"t":"e"},{"x":1738000,"y":7.943e21,"t":"-1"}]},"mark":{"type":"text","font":"Liberation Serif","fontSize":40,"align":"left","baseline":"alphabetic","color":"black"},"encoding":{"text":{"field":"t"}}},
{"data":{"values":[{"x":1030000,"y":3.388e25,"t":"1"}]},"mark":{"type":"text","font":"Liberation Serif","fontSize":40,"align":"center","baseline":"alphabetic","color":"black"},"encoding":{"text":{"field":"t"}}},
{"data":{"values":[{"x":1245,"y":4.898e23,"t":"λ"}]},"mark":{"type":"text","font":"Liberation Serif","fontSize":24,"align":"left","baseline":"alphabetic","color":"black"},"encoding":{"text":{"field":"t"}}},
{"data":{"values":[{"x":765597,"y":4.074e23,"t":"hc"}]},"mark":{"type":"text","font":"Liberation Serif","fontSize":17,"align":"center","baseline":"alphabetic","color":"black"},"encoding":{"text":{"field":"t"}}},
{"data":{"values":[{"x":511682,"y":6.31e22,"t":"λk"},{"x":990832,"y":6.31e22,"t":"T"}]},"mark":{"type":"text","font":"Liberation Serif","fontSize":17,"align":"left","baseline":"alphabetic","color":"black"},"encoding":{"text":{"field":"t"}}},
{"data":{"values":[{"x":809096,"y":5.13e22,"t":"B"}]},"mark":{"type":"text","font":"Liberation Serif","fontSize":12,"align":"left","baseline":"alphabetic","color":"black"},"encoding":{"text":{"field":"t"}}},
{"data":{"values":[{"x":19860,"x2":150000,"y":8.71e24},{"x":207014,"x2":4932000,"y":8.71e24},{"x":480839,"x2":1309000,"y":2.57e23}]},"mark":{"type":"rule","color":"black","strokeWidth":1.5},"encoding":{"x2":{"field":"x2"}}},
{"data":{"values":[{"x":5383000,"y":1.288e19,"t":"T ≈ 2.2·10⁶ K"},{"x":1871000,"y":1.148e14,"t":"0.71 R"}]},"mark":{"type":"text","font":"Liberation Serif","fontSize":52,"align":"right","baseline":"alphabetic","color":"#ff0000"},"encoding":{"text":{"field":"t"}}},
{"data":{"values":[{"x":59020,"y":8.128e16,"t":"λ"}]},"mark":{"type":"text","font":"Liberation Serif","fontSize":38,"align":"left","baseline":"alphabetic","color":"#ff0000"},"encoding":{"text":{"field":"t"}}},
{"data":{"values":[{"x":95000,"y":3.631e16,"t":"max"}]},"mark":{"type":"text","font":"Liberation Serif","fontSize":26,"align":"left","baseline":"alphabetic","color":"#ff0000"},"encoding":{"text":{"field":"t"}}},
{"data":{"values":[{"x":5383000,"y":8.128e16,"t":"= 13 Å"}]},"mark":{"type":"text","font":"Liberation Serif","fontSize":38,"align":"right","baseline":"alphabetic","color":"#ff0000"},"encoding":{"text":{"field":"t"}}},
{"data":{"values":[{"x":1871000,"y":3.236e13,"t":"Sun"}]},"mark":{"type":"text","font":"Liberation Serif","fontSize":28,"align":"left","baseline":"alphabetic","color":"#ff0000"},"encoding":{"text":{"field":"t"}}},
{"data":{"values":[{"x":55208,"y":1479,"t":"R"}]},"mark":{"type":"text","font":"Liberation Serif","fontSize":52,"align":"right","baseline":"alphabetic","color":"#0000ff"},"encoding":{"text":{"field":"t"}}},
{"data":{"values":[{"x":55208,"y":446.7,"t":"Sun"}]},"mark":{"type":"text","font":"Liberation Serif","fontSize":28,"align":"left","baseline":"alphabetic","color":"#0000ff"},"encoding":{"text":{"field":"t"}}},
{"data":{"values":[{"x":2004000,"y":631,"t":"d"}]},"mark":{"type":"text","font":"Liberation Serif","fontSize":84,"fontStyle":"italic","align":"right","baseline":"alphabetic","color":"black"},"encoding":{"text":{"field":"t"}}},
{"data":{"values":[{"x":2004000,"y":631,"t":")"}]},"mark":{"type":"text","font":"Liberation Serif","fontSize":84,"align":"left","baseline":"alphabetic","color":"black"},"encoding":{"text":{"field":"t"}}}
]},
{"width":670,"height":598,
"resolve":{"axis":{"x":"independent","y":"independent"}},
"encoding":{"x":{"field":"x","type":"quantitative","scale":{"type":"log","domain":[1,10000000],"nice":false},"axis":null},"y":{"field":"y","type":"quantitative","scale":{"type":"log","domain":[1,1e28],"nice":false},"axis":null}},
"layer":[
{"data":{"values":[{"x":4842,"x2":7852,"y":1,"y2":1e28}]},
 "mark":{"type":"rect","color":"#90ee90","opacity":1},
 "encoding":{"x":{"field":"x","type":"quantitative","scale":{"type":"log","domain":[1,10000000],"nice":false},"axis":{"orient":"bottom","values":[1,10,100,1000,10000,100000,1000000,10000000],"tickSize":-8,"tickWidth":1.5,"labelPadding":18,"labelExpr":"'10' + ['⁰','¹','²','³','⁴','⁵','⁶','⁷','⁸','⁹'][round(log(datum.value)/LN10)]","title":"λ, Å","titleFont":"Liberation Serif","titleFontSize":30,"titlePadding":20}},
  "y":{"field":"y","type":"quantitative","scale":{"type":"log","domain":[1,1e28],"nice":false},"axis":{"orient":"left","values":[1,100,10000,1000000,100000000,1e10,1e12,1e14,1e16,1e18,1e20,1e22,1e24,1e26,1e28],"tickSize":-8,"tickWidth":1.5,"labelPadding":19,"labelExpr":"'10' + (datum.value > 5e9 ? ['⁰','¹','²','³','⁴','⁵','⁶','⁷','⁸','⁹'][floor(round(log(datum.value)/LN10)/10)] : '') + ['⁰','¹','²','³','⁴','⁵','⁶','⁷','⁸','⁹'][round(log(datum.value)/LN10) % 10]","title":"Spectral radiance, [W·sr⁻¹·m⁻³]","titleFontSize":30,"titlePadding":18}},
  "x2":{"field":"x2"},"y2":{"field":"y2"}}},
{"data":{"values":[{"x":3.311,"y":1},{"x":3.548,"y":93.76},{"x":3.981,"y":82220},{"x":4.467,"y":3.243e7},{"x":5.012,"y":6.266e9},{"x":5.623,"y":6.397e11},{"x":6.31,"y":3.715e13},{"x":7.079,"y":1.303e15},{"x":7.943,"y":2.917e16},{"x":8.913,"y":4.375e17},{"x":10,"y":4.592e18},{"x":12.59,"y":2.012e20},{"x":15.85,"y":3.2e21},{"x":19.95,"y":2.273e22},{"x":25.12,"y":8.511e22},{"x":31.62,"y":1.919e23},{"x":39.81,"y":2.892e23},{"x":50.12,"y":3.176e23},{"x":63.1,"y":2.724e23},{"x":79.43,"y":1.935e23},{"x":100,"y":1.191e23},{"x":158.5,"y":3.365e22},{"x":251.2,"y":7.458e21},{"x":398.1,"y":1.442e21},{"x":631,"y":2.576e20},{"x":1000,"y":4.397e19},{"x":3162,"y":4.782e17},{"x":10000,"y":4.909e15},{"x":100000,"y":4.961e11},{"x":1000000,"y":4.968e7},{"x":10000000,"y":4968}]},
 "mark":{"type":"line","color":"#ff0000","strokeWidth":2},
 "encoding":{"x":{"field":"x","type":"quantitative","scale":{"type":"log","domain":[1,10000000],"nice":false},"axis":{"orient":"top","values":[1,10,100,1000,10000,100000,1000000,10000000],"tickSize":-8,"tickWidth":1.5,"labels":false,"title":null}},
  "y":{"field":"y","type":"quantitative","scale":{"type":"log","domain":[1,1e28],"nice":false},"axis":{"orient":"right","values":[1,100,10000,1000000,100000000,1e10,1e12,1e14,1e16,1e18,1e20,1e22,1e24,1e26,1e28],"tickSize":-8,"tickWidth":1.5,"labels":false,"title":null}}}},
{"data":{"name":"blueSI"},"transform":[{"filter":"datum.x <= 826100 || datum.x >= 3639000"}],
 "mark":{"type":"line","color":"#0000ff","strokeWidth":2},
 "encoding":{"x":{"field":"x","type":"quantitative","scale":{"type":"log","domain":[1,10000000],"nice":false},"axis":{"orient":"bottom","values":[2,3,4,5,6,7,8,9,20,30,40,50,60,70,80,90,200,300,400,500,600,700,800,900,2000,3000,4000,5000,6000,7000,8000,9000,20000,30000,40000,50000,60000,70000,80000,90000,200000,300000,400000,500000,600000,700000,800000,900000,2000000,3000000,4000000,5000000,6000000,7000000,8000000,9000000],"tickSize":-4,"tickWidth":1,"labels":false,"title":null}},
  "y":{"field":"y","type":"quantitative","scale":{"type":"log","domain":[1,1e28],"nice":false},"axis":{"orient":"left","values":[20,30,40,50,60,70,80,90,2000,3000,4000,5000,6000,7000,8000,9000,2e5,3e5,4e5,5e5,6e5,7e5,8e5,9e5,2e7,3e7,4e7,5e7,6e7,7e7,8e7,9e7,2e9,3e9,4e9,5e9,6e9,7e9,8e9,9e9,2e11,3e11,4e11,5e11,6e11,7e11,8e11,9e11,2e13,3e13,4e13,5e13,6e13,7e13,8e13,9e13,2e15,3e15,4e15,5e15,6e15,7e15,8e15,9e15,2e17,3e17,4e17,5e17,6e17,7e17,8e17,9e17,2e19,3e19,4e19,5e19,6e19,7e19,8e19,9e19,2e21,3e21,4e21,5e21,6e21,7e21,8e21,9e21,2e23,3e23,4e23,5e23,6e23,7e23,8e23,9e23,2e25,3e25,4e25,5e25,6e25,7e25,8e25,9e25,2e27,3e27,4e27,5e27,6e27,7e27,8e27,9e27],"tickSize":-4,"tickWidth":1,"labels":false,"title":null}},
  "detail":{"field":"g"}}},
{"data":{"values":[{"x":3,"y":2.512e21,"y2":1e28},{"x":3,"y":1,"y2":1.778e20}]},
 "mark":{"type":"rule","color":"#b03030","strokeWidth":1.8,"strokeDash":[9,5]},
 "encoding":{"x":{"field":"x","type":"quantitative","scale":{"type":"log","domain":[1,10000000],"nice":false},"axis":{"orient":"top","values":[2,3,4,5,6,7,8,9,20,30,40,50,60,70,80,90,200,300,400,500,600,700,800,900,2000,3000,4000,5000,6000,7000,8000,9000,20000,30000,40000,50000,60000,70000,80000,90000,200000,300000,400000,500000,600000,700000,800000,900000,2000000,3000000,4000000,5000000,6000000,7000000,8000000,9000000],"tickSize":-4,"tickWidth":1,"labels":false,"title":null}},
  "y":{"field":"y","type":"quantitative","scale":{"type":"log","domain":[1,1e28],"nice":false},"axis":{"orient":"right","values":[20,30,40,50,60,70,80,90,2000,3000,4000,5000,6000,7000,8000,9000,2e5,3e5,4e5,5e5,6e5,7e5,8e5,9e5,2e7,3e7,4e7,5e7,6e7,7e7,8e7,9e7,2e9,3e9,4e9,5e9,6e9,7e9,8e9,9e9,2e11,3e11,4e11,5e11,6e11,7e11,8e11,9e11,2e13,3e13,4e13,5e13,6e13,7e13,8e13,9e13,2e15,3e15,4e15,5e15,6e15,7e15,8e15,9e15,2e17,3e17,4e17,5e17,6e17,7e17,8e17,9e17,2e19,3e19,4e19,5e19,6e19,7e19,8e19,9e19,2e21,3e21,4e21,5e21,6e21,7e21,8e21,9e21,2e23,3e23,4e23,5e23,6e23,7e23,8e23,9e23,2e25,3e25,4e25,5e25,6e25,7e25,8e25,9e25,2e27,3e27,4e27,5e27,6e27,7e27,8e27,9e27],"tickSize":-4,"tickWidth":1,"labels":false,"title":null}},
  "y2":{"field":"y2"}}},
{"data":{"values":[{"x":52,"y":1.122e19,"y2":1e28},{"x":52,"y":1,"y2":7.943e17}]},"mark":{"type":"rule","color":"#b03030","strokeWidth":1.8},"encoding":{"y2":{"field":"y2"}}},
{"data":{"values":[{"x":3,"y":1e8,"y2":1e7,"s":"bb"},{"x":3,"y":2.818e6,"y2":2.512e5,"s":"pu"}]},"mark":{"type":"rule","strokeWidth":2},"encoding":{"y2":{"field":"y2"},"color":{"field":"s","type":"nominal","scale":{"domain":["bb","qs","as","pu"],"range":["#ff0000","#0000ff","#00ffff","#bb00ff"]},"legend":null}}},
{"data":{"values":[{"x":3,"y":1e8,"s":"bb"},{"x":3,"y":1e7,"s":"bb"},{"x":3,"y":2.818e6,"s":"pu"},{"x":3,"y":2.512e5,"s":"pu"}]},"mark":{"type":"tick","orient":"horizontal","size":15,"thickness":2,"opacity":1},"encoding":{"color":{"field":"s","type":"nominal","scale":{"domain":["bb","qs","as","pu"],"range":["#ff0000","#0000ff","#00ffff","#bb00ff"]},"legend":null}}},
{"data":{"values":[{"x":3.873,"y":2.63e20,"t":"4.2 keV"},{"x":50.8,"y":1.995e18,"t":"250 eV"}]},"mark":{"type":"text","font":"Liberation Serif","fontSize":23,"align":"center","baseline":"alphabetic","color":"#b03030"},"encoding":{"text":{"field":"t"}}},
{"data":{"values":[{"x":5408000,"y":3.802e21,"t":"T ≈ 6·10⁵ K"}]},"mark":{"type":"text","font":"Liberation Serif","fontSize":53,"align":"right","baseline":"alphabetic","color":"#ff0000"},"encoding":{"text":{"field":"t"}}},
{"data":{"values":[{"x":1982000,"y":3.236e16,"t":"0.9 R"}]},"mark":{"type":"text","font":"Liberation Serif","fontSize":52,"align":"right","baseline":"alphabetic","color":"#ff0000"},"encoding":{"text":{"field":"t"}}},
{"data":{"values":[{"x":50350,"y":2.239e19,"t":"λ"}]},"mark":{"type":"text","font":"Liberation Serif","fontSize":38,"align":"left","baseline":"alphabetic","color":"#ff0000"},"encoding":{"text":{"field":"t"}}},
{"data":{"values":[{"x":76913,"y":1e19,"t":"max"}]},"mark":{"type":"text","font":"Liberation Serif","fontSize":26,"align":"left","baseline":"alphabetic","color":"#ff0000"},"encoding":{"text":{"field":"t"}}},
{"data":{"values":[{"x":5408000,"y":2.239e19,"t":"≈\u00a0\u00a050 Å"}]},"mark":{"type":"text","font":"Liberation Serif","fontSize":38,"align":"right","baseline":"alphabetic","color":"#ff0000"},"encoding":{"text":{"field":"t"}}},
{"data":{"values":[{"x":1982000,"y":1.096e16,"t":"Sun"}]},"mark":{"type":"text","font":"Liberation Serif","fontSize":28,"align":"left","baseline":"alphabetic","color":"#ff0000"},"encoding":{"text":{"field":"t"}}},
{"data":{"values":[{"x":46990,"y":1445,"t":"R"}]},"mark":{"type":"text","font":"Liberation Serif","fontSize":52,"align":"right","baseline":"alphabetic","color":"#0000ff"},"encoding":{"text":{"field":"t"}}},
{"data":{"values":[{"x":46990,"y":323.6,"t":"Sun"}]},"mark":{"type":"text","font":"Liberation Serif","fontSize":28,"align":"left","baseline":"alphabetic","color":"#0000ff"},"encoding":{"text":{"field":"t"}}},
{"data":{"values":[{"x":1365000,"y":354.8,"t":"c"}]},"mark":{"type":"text","font":"Liberation Serif","fontSize":84,"fontStyle":"italic","align":"right","baseline":"alphabetic","color":"black"},"encoding":{"text":{"field":"t"}}},
{"data":{"values":[{"x":1365000,"y":354.8,"t":")"}]},"mark":{"type":"text","font":"Liberation Serif","fontSize":84,"align":"left","baseline":"alphabetic","color":"black"},"encoding":{"text":{"field":"t"}}}
]}
]
}
